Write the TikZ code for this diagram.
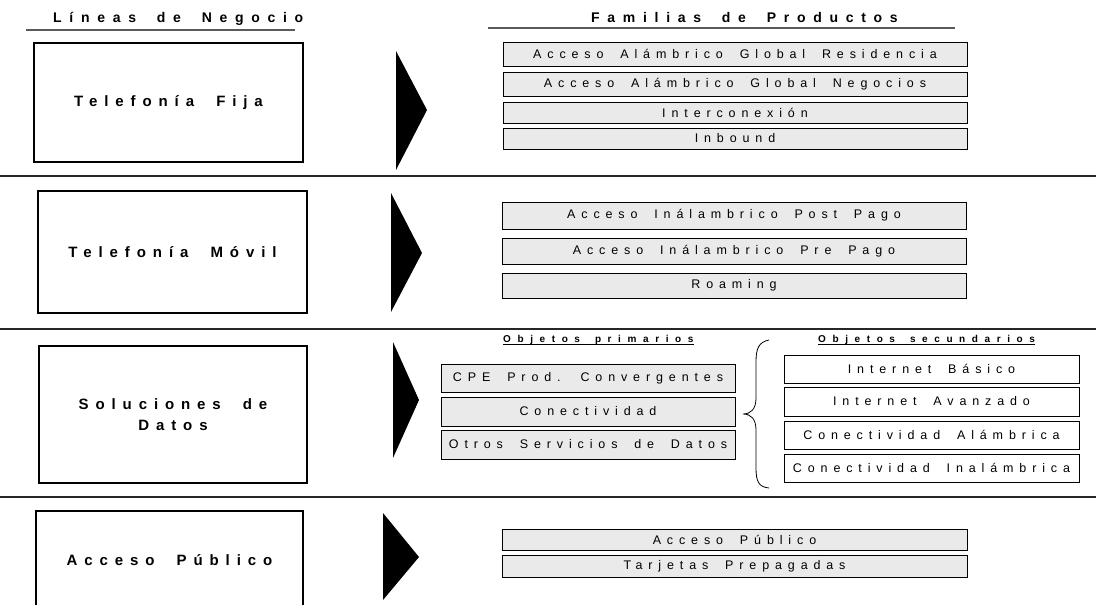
\documentclass[tikz,border=0pt]{standalone}
\usepackage{fontspec}
\usepackage{tikz}
\setmainfont{Liberation Sans}
\newfontfamily\prodfont[LetterSpace=47,WordSpace=1.8]{Liberation Sans}
\newfontfamily\linefont[LetterSpace=46,WordSpace=2]{Liberation Sans}
\newfontfamily\headfont[LetterSpace=55,WordSpace=1.8]{Liberation Sans}
\newfontfamily\objfont[LetterSpace=66,WordSpace=1.6]{Liberation Sans}
\definecolor{prodgray}{RGB}{234,234,234}
\definecolor{rulegray}{RGB}{90,90,90}

\tikzset{
  linebox/.style={draw=black,line width=1.1pt,fill=white,inner sep=0pt,align=center,
    font=\linefont\bfseries\fontsize{15}{21}\selectfont},
  prodbox/.style={draw=black,line width=1pt,fill=prodgray,inner sep=0pt,
    font=\prodfont\fontsize{12.5}{14}\selectfont},
  secbox/.style={prodbox,fill=white},
  headtext/.style={inner sep=0pt,anchor=base west,font=\headfont\bfseries\fontsize{14}{16}\selectfont},
  objtext/.style={inner sep=0pt,anchor=base west,font=\objfont\bfseries\fontsize{10}{12}\selectfont},
  arrowtip/.style={fill=black},
}

\begin{document}
\begin{tikzpicture}[x=1pt,y=-1pt]
\useasboundingbox (0,0) rectangle (1096,605);
% headers:
\node[headtext] (hlineas) at (53,23) {Líneas de Negocio};
\node[headtext] (hfamilias) at (591,23) {Familias de Productos};
\draw[rulegray,line width=1.2pt] (26,30) -- (295,30);
\draw[rulegray,line width=1.2pt] (488,28) -- (955,28);
% separators:
\draw[black!85,line width=1.3pt] (0,176) -- (1096,176);
\draw[black!85,line width=1.3pt] (0,329) -- (1096,329);
\draw[black!85,line width=1.3pt] (0,497) -- (1096,497);
% lines of business:
\node[linebox,minimum width=269pt,minimum height=119pt] (fija) at (168.5,102.5) {Telefonía Fija};
\node[linebox,minimum width=269pt,minimum height=122pt] (movil) at (172.5,252) {Telefonía Móvil};
\node[linebox,minimum width=268pt,minimum height=137pt] (datos) at (173,414.5) {Soluciones de\\Datos};
\node[linebox,minimum width=267pt,minimum height=99pt] (publico) at (169.5,560.5) {Acceso Público};
% arrows:
\path[arrowtip] (396,51) -- (427,110) -- (396,170) -- cycle;
\path[arrowtip] (391,193) -- (422,253) -- (391,312) -- cycle;
\path[arrowtip] (393,342) -- (419,400) -- (393,458) -- cycle;
\path[arrowtip] (383,513) -- (419,557) -- (383,600) -- cycle;
% telefonia fija:
\node[prodbox,minimum width=464pt,minimum height=24pt] (fresid) at (735,54) {Acceso Alámbrico Global Residencia};
\node[prodbox,minimum width=464pt,minimum height=24pt] (fneg) at (735,84) {Acceso Alámbrico Global Negocios};
\node[prodbox,minimum width=464pt,minimum height=21pt] (finter) at (735,112.5) {Interconexión};
\node[prodbox,minimum width=464pt,minimum height=21pt] (finb) at (735,138.5) {Inbound};
% telefonia movil:
\node[prodbox,minimum width=464pt,minimum height=27pt] (mpost) at (734,215.5) {Acceso Inálambrico Post Pago};
\node[prodbox,minimum width=464pt,minimum height=26pt] (mpre) at (734,251) {Acceso Inálambrico Pre Pago};
\node[prodbox,minimum width=464pt,minimum height=25pt] (mroam) at (734,285.5) {Roaming};
% soluciones de datos:
\node[objtext] (oprim) at (503,342) {Objetos primarios};
\node[objtext] (osec) at (818,342) {Objetos secundarios};
\draw[line width=0.8pt] ([yshift=-2.5pt]oprim.base west) -- ([yshift=-2.5pt]oprim.base east);
\draw[line width=0.8pt] ([yshift=-2.5pt]osec.base west) -- ([yshift=-2.5pt]osec.base east);
\node[prodbox,minimum width=294pt,minimum height=28pt] (dcpe) at (588,378) {CPE Prod. Convergentes};
\node[prodbox,minimum width=294pt,minimum height=29pt] (dcon) at (588,411.5) {Conectividad};
\node[prodbox,minimum width=294pt,minimum height=29pt] (dotros) at (588,444.5) {Otros Servicios de Datos};
\node[secbox,minimum width=295pt,minimum height=28pt] (dbas) at (931.5,369) {Internet Básico};
\node[secbox,minimum width=295pt,minimum height=29pt] (davz) at (931.5,401.5) {Internet Avanzado};
\node[secbox,minimum width=295pt,minimum height=28pt] (dalam) at (931.5,435) {Conectividad Alámbrica};
\node[secbox,minimum width=295pt,minimum height=28pt] (dinal) at (931.5,468) {Conectividad Inalámbrica};
\draw[line width=0.8pt] (769,340) .. controls (759,342) and (756,348) .. (756,362) -- (756,398)
  .. controls (756,409) and (751,414) .. (743,414) .. controls (751,414) and (756,419) .. (756,430)
  -- (756,468) .. controls (756,482) and (759,487) .. (769,488);
% acceso publico:
\node[prodbox,minimum width=465pt,minimum height=21pt] (ppub) at (734.5,539.5) {Acceso Público};
\node[prodbox,minimum width=465pt,minimum height=22pt] (ptarj) at (734.5,566) {Tarjetas Prepagadas};
\end{tikzpicture}
\end{document}
